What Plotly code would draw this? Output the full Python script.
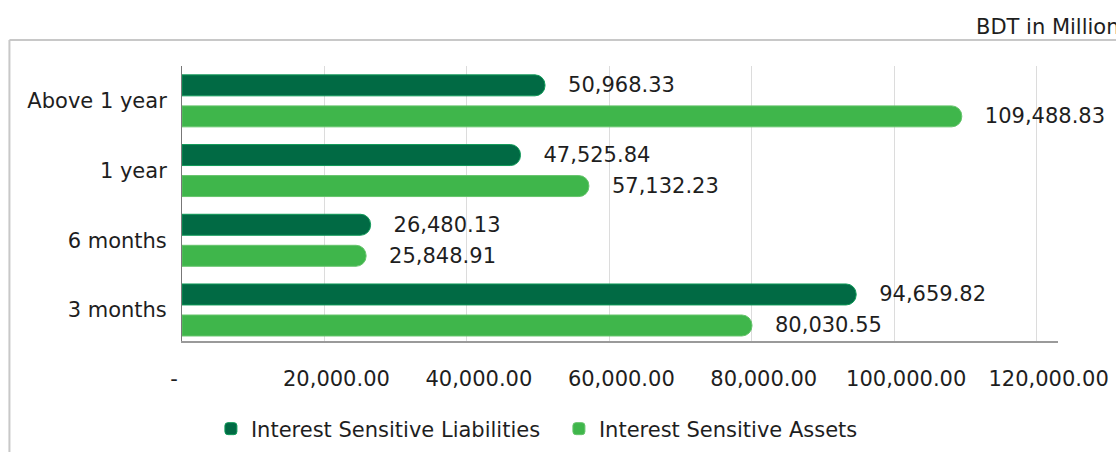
import plotly.graph_objects as go

# Interest rate sensitivity by maturity bucket (BDT in Million)
buckets = ["3 months", "6 months", "1 year", "Above 1 year"]
liabilities = [94659.82, 26480.13, 47525.84, 50968.33]
assets = [80030.55, 25848.91, 57132.23, 109488.83]

tick_vals = [0, 20000, 40000, 60000, 80000, 100000, 120000]
tick_text = ["-" + "\u00a0" * 6, "20,000.00", "40,000.00", "60,000.00",
             "80,000.00", "100,000.00", "120,000.00"]

FONT = "DejaVu Sans"
TEXT_COLOR = "#1e1e1e"
DARK_GREEN = "#016a44"
LIGHT_GREEN = "#3fb64b"

def fmt(v):
    return "\u00a0\u00a0\u00a0" + f"{v:,.2f}"

fig = go.Figure()
fig.add_trace(go.Bar(
    y=buckets, x=assets, orientation="h",
    name="Interest Sensitive Assets",
    marker=dict(color=LIGHT_GREEN, cornerradius=10,
                line=dict(color="#66c46c", width=1)),
    text=[fmt(v) for v in assets], textposition="outside",
    textfont=dict(family=FONT, size=21, color=TEXT_COLOR),
    constraintext="none", cliponaxis=False, legendrank=2,
))
fig.add_trace(go.Bar(
    y=buckets, x=liabilities, orientation="h",
    name="Interest Sensitive Liabilities",
    marker=dict(color=DARK_GREEN, cornerradius=10,
                line=dict(color="#0f9a58", width=1)),
    text=[fmt(v) for v in liabilities], textposition="outside",
    textfont=dict(family=FONT, size=21, color=TEXT_COLOR),
    constraintext="none", cliponaxis=False, legendrank=1,
))

fig.update_layout(
    width=1116, height=452,
    margin=dict(l=182, r=58, t=66, b=111, autoexpand=False),
    paper_bgcolor="white", plot_bgcolor="white",
    barmode="group", bargap=0.11, bargroupgap=0.324,
    font=dict(family=FONT, size=21, color=TEXT_COLOR),
    xaxis=dict(
        range=[0, 123000], tickvals=tick_vals, ticktext=tick_text,
        showgrid=True, gridcolor="#dcdcdc", gridwidth=1,
        showline=True, linecolor="#9a9a9a", linewidth=2,
        ticks="outside", ticklen=18, tickcolor="rgba(0,0,0,0)",
        ticklabelshift=12, zeroline=False,
        tickfont=dict(family=FONT, size=21, color=TEXT_COLOR),
    ),
    yaxis=dict(
        range=[-0.445, 3.5],
        showline=True, linecolor="#777777", linewidth=1,
        ticks="outside", ticklen=10, tickcolor="rgba(0,0,0,0)",
        showgrid=False,
        tickfont=dict(family=FONT, size=21, color=TEXT_COLOR),
    ),
    legend=dict(
        orientation="h", x=0.033, y=-0.32, xanchor="left", yanchor="middle",
        entrywidth=303, entrywidthmode="pixels",
        font=dict(family=FONT, size=21, color=TEXT_COLOR),
        bgcolor="rgba(0,0,0,0)",
    ),
    annotations=[dict(
        text="BDT in Million", xref="paper", yref="paper",
        x=0.904, y=1.142, xanchor="left", yanchor="middle",
        showarrow=False, font=dict(family=FONT, size=21, color=TEXT_COLOR),
    )],
    shapes=[
        dict(type="line", xref="paper", yref="paper",
             x0=-0.197, x1=1.1, y0=1.0945, y1=1.0945,
             line=dict(color="#c8c8c8", width=2)),
        dict(type="line", xref="paper", yref="paper",
             x0=-0.197, x1=-0.197, y0=1.0945, y1=-0.45,
             line=dict(color="#c8c8c8", width=2)),
    ],
)

fig.write_html("out.html")
